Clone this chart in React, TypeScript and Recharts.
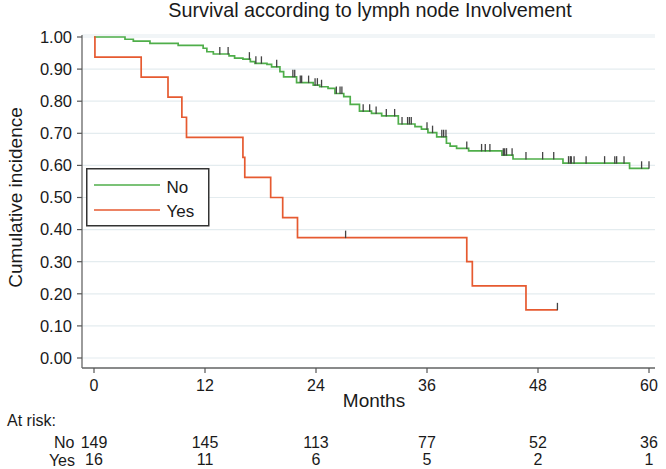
import React from 'react';
import { ComposedChart, Line, Scatter, XAxis, YAxis, CartesianGrid, Legend, Label } from 'recharts';

const chartTitle = 'Survival according to lymph node Involvement';
const xTitle = 'Months';
const yTitle = 'Cumulative incidence';
const atRiskTitle = 'At risk:';
const seriesNames = ['No', 'Yes'];

const xTicks = [0, 12, 24, 36, 48, 60];
const yTicks = [0, 0.1, 0.2, 0.3, 0.4, 0.5, 0.6, 0.7, 0.8, 0.9, 1];

const atRiskNo = [149, 145, 113, 77, 52, 36];
const atRiskYes = [16, 11, 6, 5, 2, 1];

// "No" group (green) step curve
const noTimes = [0, 3.35, 4.25, 6.05, 9.1, 11.8, 12.2, 12.9, 14.6, 15.2, 16.1, 16.9, 17.4, 18.7, 19.2, 20.1, 20.5, 21.9, 23.7, 24.4, 25.3, 26.05, 27.0, 27.7, 28.7, 30.0, 31.1, 32.9, 34.7, 35.4, 36.1, 37.05, 38.1, 38.5, 39.2, 40.5, 44.1, 45.3, 50.7, 57.9, 60];
const noSurv = [1.0, 0.993, 0.987, 0.98, 0.974, 0.965, 0.954, 0.947, 0.941, 0.934, 0.931, 0.923, 0.918, 0.915, 0.907, 0.892, 0.876, 0.858, 0.85, 0.845, 0.84, 0.824, 0.814, 0.79, 0.769, 0.762, 0.754, 0.729, 0.721, 0.713, 0.702, 0.689, 0.669, 0.66, 0.653, 0.645, 0.632, 0.62, 0.607, 0.591, 0.591];
const noCensor = [13.6, 14.5, 16.8, 17.5, 18.1, 19.75, 21.5, 21.7, 22.3, 22.45, 23.2, 23.9, 24.15, 24.6, 26.2, 26.6, 26.8, 29.1, 29.8, 30.5, 31.6, 32.5, 33.3, 33.9, 34.1, 34.3, 36.0, 36.6, 37.6, 37.8, 38.05, 40.3, 41.9, 42.3, 42.8, 44.25, 44.4, 44.6, 45.2, 46.7, 48.5, 49.7, 51.3, 51.5, 51.6, 51.9, 53.2, 55.2, 56.3, 56.5, 57.3, 59.2, 60.0];

// "Yes" group (red) step curve
const yesTimes = [0, 0.1, 5.1, 8.0, 9.5, 10.0, 16.1, 16.3, 19.1, 20.4, 22.0, 40.3, 40.9, 46.7, 50.1];
const yesSurv = [1.0, 0.9375, 0.875, 0.8125, 0.75, 0.6875, 0.625, 0.5625, 0.5, 0.4375, 0.375, 0.3, 0.225, 0.15, 0.15];
const yesCensor = [27.2, 50.1];

const GREEN = '#4fae4a';
const RED = '#e65a30';
const FONT = '"Liberation Sans", Arial, Helvetica, sans-serif';
const TEXT = '#1a1a1a';

const X_MIN = -12 / 9.25;
const X_MAX = 60 + 6 / 9.25;
const Y_MIN = -10 / 321;
const Y_MAX = 1 + 2 / 321;

const toPoints = (times: number[], surv: number[]) => times.map((t, i) => ({ t, s: surv[i] }));
const lookup = (times: number[], surv: number[], t: number) => {
  let v = surv[0];
  for (let i = 0; i < times.length; i++) if (times[i] <= t) v = surv[i];
  return v;
};

const noData = toPoints(noTimes, noSurv);
const yesData = toPoints(yesTimes, yesSurv);
const noCensorData = noCensor.map((t) => ({ t, s: lookup(noTimes, noSurv, t) }));
const yesCensorData = yesCensor.map((t) => ({ t, s: lookup(yesTimes, yesSurv, t) }));
const noRiskData = xTicks.map((t, i) => ({ t, s: 0, n: atRiskNo[i] }));
const yesRiskData = xTicks.map((t, i) => ({ t, s: 0, n: atRiskYes[i] }));

const CensorMark = (props: any) => {
  const { cx, cy } = props;
  if (cx == null || cy == null) return <g />;
  return <line x1={cx} x2={cx} y1={cy + 0.5} y2={cy - 7} stroke="#444" strokeWidth={1.3} />;
};

const Hidden = () => <g />;

const LegendBox = () => (
  <svg width={124} height={59} style={{ display: 'block' }}>
    <rect x={0.75} y={0.75} width={122} height={57} fill="#fff" stroke="#333" strokeWidth={1.5} />
    <line x1={8} x2={74} y1={17} y2={17} stroke={GREEN} strokeWidth={1.5} />
    <text x={80.5} y={25} fontSize={17} fontFamily={FONT} fill={TEXT}>{seriesNames[0]}</text>
    <line x1={8} x2={74} y1={42} y2={42} stroke={RED} strokeWidth={1.5} />
    <text x={80.5} y={49} fontSize={17} fontFamily={FONT} fill={TEXT}>{seriesNames[1]}</text>
  </svg>
);

const YTitleLabel = () => {
  const cy = 197.5;
  return (
    <g>
      <text x={22} y={cy} transform={`rotate(-90, 22, ${cy})`} textAnchor="middle" fontSize={19} fontFamily={FONT} fill={TEXT}>
        {yTitle}
      </text>
      <text x={370} y={17} textAnchor="middle" fontSize={19.8} fontFamily={FONT} fill={TEXT}>
        {chartTitle}
      </text>
    </g>
  );
};

const XTitleLabel = (props: any) => {
  const vb = props.viewBox || { x: 82, y: 368 };
  return (
    <text x={374} y={vb.y + 39} textAnchor="middle" fontSize={19} fontFamily={FONT} fill={TEXT}>
      {xTitle}
    </text>
  );
};

const NoRowLabel = (props: any) => {
  const vb = props.viewBox || { x: 82, y: 428 };
  return (
    <g>
      <text x={7} y={vb.y - 2} fontSize={16} fontFamily={FONT} fill={TEXT}>{atRiskTitle}</text>
      <text x={74.5} y={vb.y + 20} textAnchor="end" fontSize={16} fontFamily={FONT} fill={TEXT}>{seriesNames[0]}</text>
    </g>
  );
};

const YesRowLabel = (props: any) => {
  const vb = props.viewBox || { x: 82, y: 446 };
  return (
    <text x={75} y={vb.y + 20} textAnchor="end" fontSize={16} fontFamily={FONT} fill={TEXT}>{seriesNames[1]}</text>
  );
};

const tickStyle = { fontSize: 16, fill: TEXT, fontFamily: FONT };
const yTickStyle = { fontSize: 16.5, fill: TEXT, fontFamily: FONT };

export default function App() {
  return (
    <div style={{ position: 'absolute', left: 0, top: 0, width: 666, height: 469, background: '#fff' }}>
      <ComposedChart width={666} height={469} margin={{ top: 35, right: 11, bottom: 3, left: 0 }}>
        <CartesianGrid vertical={false} stroke="#e4ecef" strokeWidth={1.2} />
        <XAxis
          xAxisId={0}
          dataKey="t"
          type="number"
          domain={[X_MIN, X_MAX]}
          ticks={xTicks}
          interval={0}
          allowDataOverflow
          height={60}
          tickSize={5}
          tickMargin={7}
          tick={tickStyle}
          axisLine={{ stroke: '#666', strokeWidth: 1.3 }}
          tickLine={{ stroke: '#555', strokeWidth: 1.2 }}
        >
          <Label content={XTitleLabel} />
        </XAxis>
        <XAxis
          xAxisId="riskNo"
          dataKey="t"
          type="number"
          domain={[X_MIN, X_MAX]}
          ticks={xTicks}
          interval={0}
          allowDataOverflow
          height={18}
          tickSize={0}
          tickMargin={9}
          axisLine={false}
          tickLine={false}
          tick={tickStyle}
          tickFormatter={(v: number) => String(atRiskNo[xTicks.indexOf(v)])}
        >
          <Label content={NoRowLabel} />
        </XAxis>
        <XAxis
          xAxisId="riskYes"
          dataKey="t"
          type="number"
          domain={[X_MIN, X_MAX]}
          ticks={xTicks}
          interval={0}
          allowDataOverflow
          height={20}
          tickSize={0}
          tickMargin={8}
          axisLine={false}
          tickLine={false}
          tick={tickStyle}
          tickFormatter={(v: number) => String(atRiskYes[xTicks.indexOf(v)])}
        >
          <Label content={YesRowLabel} />
        </XAxis>
        <YAxis
          dataKey="s"
          type="number"
          domain={[Y_MIN, Y_MAX]}
          ticks={yTicks}
          interval={0}
          allowDataOverflow
          width={82}
          tickSize={5}
          tickMargin={5}
          tick={yTickStyle}
          tickFormatter={(v: number) => v.toFixed(2)}
          axisLine={{ stroke: '#666', strokeWidth: 1.3 }}
          tickLine={{ stroke: '#555', strokeWidth: 1.2 }}
        >
          <Label content={YTitleLabel} />
        </YAxis>
        <Legend
          layout="horizontal"
          verticalAlign="middle"
          align="center"
          wrapperStyle={{ position: 'absolute', left: 86, top: 168, width: 124, height: 59, margin: 0, padding: 0 }}
          content={LegendBox}
        />
        <Line data={noData} dataKey="s" name={seriesNames[0]} type="stepAfter" stroke={GREEN} strokeWidth={1.7} dot={false} activeDot={false} isAnimationActive={false} />
        <Line data={yesData} dataKey="s" name={seriesNames[1]} type="stepAfter" stroke={RED} strokeWidth={1.7} dot={false} activeDot={false} isAnimationActive={false} />
        <Scatter data={noCensorData} dataKey="s" shape={CensorMark} isAnimationActive={false} legendType="none" />
        <Scatter data={yesCensorData} dataKey="s" shape={CensorMark} isAnimationActive={false} legendType="none" />
        <Scatter xAxisId="riskNo" data={noRiskData} dataKey="s" shape={Hidden} isAnimationActive={false} legendType="none" />
        <Scatter xAxisId="riskYes" data={yesRiskData} dataKey="s" shape={Hidden} isAnimationActive={false} legendType="none" />
      </ComposedChart>
    </div>
  );
}
